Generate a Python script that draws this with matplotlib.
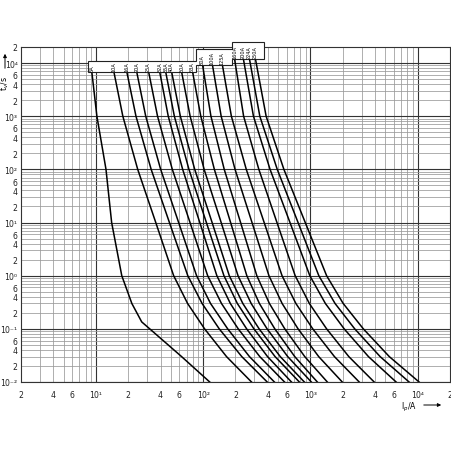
"""Fuse time-current characteristics (log-log), redrawn with matplotlib."""

import math

import matplotlib
matplotlib.use("Agg")
import matplotlib.pyplot as plt
from matplotlib.patches import FancyArrowPatch, Polygon
from matplotlib.ticker import FuncFormatter, LogLocator

# ---- data ------------------------------------------------------------------
ratings = ["6A", "10A", "16A", "20A", "25A", "32A", "35A", "40A", "50A", "63A",
           "80A", "100A", "125A", "160A", "200A", "224A", "250A"]

# top of each curve (just under its label)
i_start = [9.15, 14.7, 19.4, 24.0, 31.0, 39.3, 44.7, 50.8, 62.9, 79.6,
           98.6, 122, 151, 196, 237, 270, 307]
t_start = [6780, 6780, 6780, 6780, 6780, 6780, 6780, 6780, 6780, 6780,
           9170, 9170, 9170, 11890, 11890, 11890, 11890]

# melting times where the curves are read (s)
t_grid = [1000, 100, 10, 1, 0.3, 0.1, 0.03, 0.01]

# currents (A) at t_grid, 10A ... 250A
i_grid = [
    [17.8, 24.5, 36.1, 53.0, 71.5, 103, 165, 282],
    [23.6, 32.7, 48.4, 71.8, 97.6, 141, 229, 395],
    [29.1, 40.1, 59.0, 86.7, 117, 169, 270, 461],
    [37.5, 51.5, 75.3, 110, 148, 212, 337, 573],
    [47.2, 64.3, 92.9, 134, 179, 254, 398, 665],
    [53.8, 73.6, 107, 156, 208, 297, 468, 788],
    [61.2, 83.3, 121, 175, 234, 332, 523, 877],
    [75.5, 102, 147, 211, 280, 394, 614, 1019],
    [94.9, 127, 180, 255, 334, 465, 714, 1159],
    [118, 157, 223, 316, 414, 576, 885, 1436],
    [147, 198, 285, 410, 544, 766, 1194, 1979],
    [183, 252, 370, 543, 731, 1050, 1674, 2848],
    [238, 330, 487, 720, 976, 1414, 2279, 3927],
    [294, 420, 644, 986, 1377, 2061, 3475, 6290],
    [337, 490, 766, 1196, 1695, 2585, 4465, 8310],
    [386, 565, 894, 1414, 2018, 3110, 5436, 10300],
]

# the 6A curve has its own kinked shape
i_6a = [9.15, 10.2, 12.4, 14.0, 17.4, 21.6, 26.7, 31.7, 62.9, 115]
t_6a = [6780, 1000, 100, 10, 1, 0.3, 0.135, 0.1, 0.03, 0.01]

# stepped label box outline (A, s)
box_i = [8.4, 85.8, 85.8, 183.6, 183.6, 372, 372, 183.6, 183.6, 85.8, 85.8, 8.4]
box_t = [6780, 6780, 9170, 9170, 11890, 11890, 24800, 24800, 18300, 18300, 10900, 10900]

SUP = str.maketrans("-0123456789", "⁻⁰¹²³⁴⁵⁶⁷⁸⁹")

# ---- figure ----------------------------------------------------------------
W = H = 452
fig = plt.figure(figsize=(W / 100, H / 100), dpi=100)
ax = fig.add_axes([21 / W, (H - 383) / H, 429 / W, 335 / H])
ax.set_xscale("log")
ax.set_yscale("log")
ax.set_xlim(2, 2e4)
ax.set_ylim(1e-2, 2e4)


def major_fmt(v, pos):
    return "10" + str(round(math.log10(v))).translate(SUP)


def minor_fmt(v, pos):
    m = round(v / 10 ** math.floor(math.log10(v) + 1e-9))
    return str(m) if m in (2, 4, 6) else ""


for a in (ax.xaxis, ax.yaxis):
    a.set_major_locator(LogLocator(base=10, numticks=20))
    a.set_minor_locator(LogLocator(base=10, subs=range(2, 10), numticks=20))
    a.set_major_formatter(FuncFormatter(major_fmt))
    a.set_minor_formatter(FuncFormatter(minor_fmt))

ax.tick_params(which="both", length=0, labelsize=5.6, colors="#222222")
ax.tick_params(axis="x", which="both", pad=6)
ax.tick_params(axis="y", which="both", pad=2.5)

ax.grid(which="major", color="#333333", lw=0.8)
ax.grid(which="minor", color="#999999", lw=0.55)
for s in ax.spines.values():
    s.set_color("#333333")
    s.set_linewidth(0.8)

# curves
ax.plot(i_6a, t_6a, color="black", lw=1.1, solid_joinstyle="round")
for k in range(1, len(ratings)):
    xs = [i_start[k]] + i_grid[k - 1]
    ys = [t_start[k]] + t_grid
    ax.plot(xs, ys, color="black", lw=1.1, solid_joinstyle="round")

# label box and rating labels
box = Polygon(list(zip(box_i, box_t)), closed=True, facecolor="white",
              edgecolor="#222222", lw=0.8, clip_on=False, zorder=3)
ax.add_patch(box)
for name, x, t in zip(ratings, i_start, t_start):
    ax.text(x, t * 1.04, name, rotation=90, fontsize=3.6, ha="center", va="bottom",
            zorder=4, clip_on=False)

# axis titles with arrows
fig.text(5 / W, 1 - 84 / H, r"t$_v$/s", rotation=90, fontsize=5.6, ha="center", va="center")
fig.add_artist(FancyArrowPatch(
    (5 / W, 1 - 72 / H), (5 / W, 1 - 52 / H), transform=fig.transFigure,
    arrowstyle="-|>", mutation_scale=5, lw=0.7, color="black"))
fig.text(409 / W, 1 - 407 / H, r"I$_p$/A", fontsize=5.6, ha="center", va="center")
fig.add_artist(FancyArrowPatch(
    (421 / W, 1 - 406 / H), (444 / W, 1 - 406 / H), transform=fig.transFigure,
    arrowstyle="-|>", mutation_scale=5, lw=0.7, color="black"))

fig.savefig("out.png", dpi=100, facecolor="white")
